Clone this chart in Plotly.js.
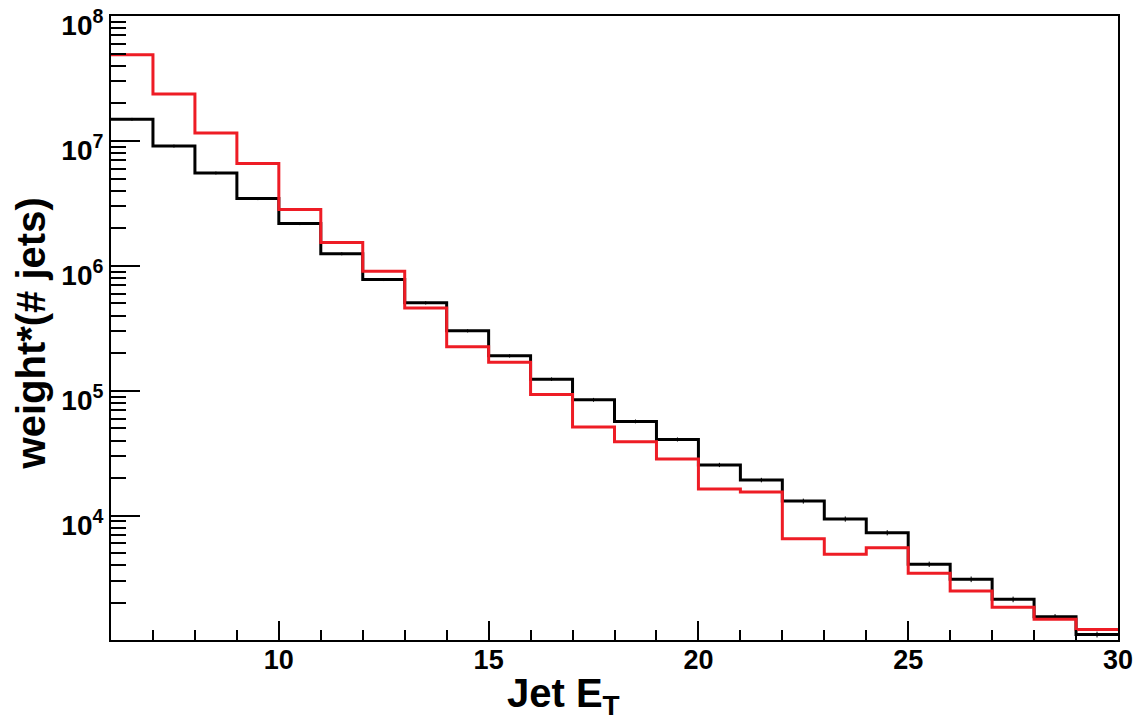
<!DOCTYPE html>
<html>
<head>
<meta charset="utf-8">
<script src="https://cdn.plot.ly/plotly-3.0.1.min.js"></script>
<style>
html,body{margin:0;padding:0;background:#fff;}
#chart{width:1136px;height:722px;}
</style>
</head>
<body>
<div id="chart"></div>
<script>
// Bin edges (Jet E_T)
const binEdges = [6,7,8,9,10,11,12,13,14,15,16,17,18,19,20,21,22,23,24,25,26,27,28,29,30];
// Black histogram (per bin)
const blackValues = [1.49e7, 9.1e6, 5.54e6, 3.46e6, 2.18e6, 1.25e6, 7.78e5, 5.06e5, 3.02e5, 1.905e5, 1.24e5, 8.47e4, 5.69e4, 4.08e4, 2.55e4, 1.93e4, 1.31e4, 9.41e3, 7.31e3, 4.09e3, 3.10e3, 2.14e3, 1.55e3, 1.12e3];
// Black statistical errors (per bin)
const blackErrors = [4e5, 2.5e5, 1.5e5, 1e5, 6e4, 3.5e4, 2.2e4, 1.5e4, 9e3, 6e3, 4e3, 3e3, 2e3, 1.5e3, 1e3, 8e2, 6e2, 4.5e2, 3.5e2, 2e2, 1.6e2, 1.1e2, 8e1, 6e1];
// Red histogram (per bin)
const redValues = [4.91e7, 2.38e7, 1.16e7, 6.59e6, 2.83e6, 1.54e6, 9.07e5, 4.61e5, 2.25e5, 1.69e5, 9.35e4, 5.13e4, 3.91e4, 2.84e4, 1.64e4, 1.55e4, 6.55e3, 4.91e3, 5.55e3, 3.46e3, 2.50e3, 1.85e3, 1.48e3, 1.23e3];
// Axis tick labels
const yTickVals = [1e4, 1e5, 1e6, 1e7, 1e8];
const yTickText = ["10<sup>4</sup>", "10<sup>5</sup>", "10<sup>6</sup>", "10<sup>7</sup>", "10<sup>8</sup>"];
const xTickVals = [10, 15, 20, 25, 30];
const xTickText = ["10", "15", "20", "25", "30"];
const xTitle = "Jet E<sub>T</sub>";
const yTitle = "weight*(# jets)";

function stepY(vals){ return vals.concat([vals[vals.length-1]]); }
const centers = binEdges.slice(0,-1).map((e,i)=> (e+binEdges[i+1])/2);

// minor tick positions on log axis
const yMinor = [];
for (let d = 3; d < 8; d++) for (let m = 2; m <= 9; m++) yMinor.push(m*Math.pow(10,d));
const xMinor = [];
for (let v = binEdges[0]; v <= binEdges[binEdges.length-1]; v++) xMinor.push(v);

const font = "'Liberation Sans', Arial, Helvetica, sans-serif";

const traces = [
  {x: binEdges, y: stepY(blackValues), mode: 'lines', line: {shape: 'hv', color: '#000000', width: 3}, hoverinfo: 'skip'},
  {x: centers, y: blackValues, mode: 'markers', marker: {size: 0.1, color: '#000'},
   error_y: {type: 'data', array: blackErrors, visible: true, width: 0, thickness: 1, color: '#000'}, hoverinfo: 'skip'},
  {x: binEdges, y: stepY(redValues), mode: 'lines', line: {shape: 'hv', color: '#ee1c25', width: 3}, hoverinfo: 'skip'}
];

const layout = {
  width: 1136, height: 722,
  margin: {l: 111, r: 18, t: 16, b: 82},
  paper_bgcolor: '#fff', plot_bgcolor: '#fff',
  showlegend: false,
  font: {family: font, color: '#000'},
  xaxis: {
    range: [6, 30], showgrid: false, zeroline: false,
    showline: true, linecolor: '#000', linewidth: 2, mirror: true,
    ticks: 'inside', ticklen: 19, tickwidth: 2, tickcolor: '#000',
    tickmode: 'array', tickvals: xTickVals, ticktext: xTickText,
    tickfont: {family: font, size: 27, color: '#000', weight: 'bold'},
    ticklabelstandoff: -5, ticklabeloverflow: 'allow',
    minor: {tickmode: 'array', tickvals: xMinor, ticks: 'inside', ticklen: 10, tickwidth: 2, tickcolor: '#000', showgrid: false}
  },
  yaxis: {
    type: 'log', range: [3.005, 8.0005], showgrid: false, zeroline: false,
    showline: true, linecolor: '#000', linewidth: 2, mirror: true,
    ticks: 'inside', ticklen: 29, tickwidth: 2, tickcolor: '#000',
    tickmode: 'array', tickvals: yTickVals, ticktext: yTickText,
    tickfont: {family: font, size: 28, color: '#000', weight: 'bold'},
    ticklabelshift: 9, ticklabelstandoff: 0, ticklabeloverflow: 'allow',
    minor: {tickmode: 'array', tickvals: yMinor, ticks: 'inside', ticklen: 15, tickwidth: 2, tickcolor: '#000', showgrid: false}
  },
  annotations: [
    {text: '<b>' + xTitle + '</b>', xref: 'paper', yref: 'paper', x: 0.391, y: -0.047,
     xanchor: 'left', yanchor: 'top', showarrow: false, font: {family: font, size: 40, color: '#000'}},
    {text: '<b>' + yTitle + '</b>', xref: 'paper', yref: 'paper', x: -0.079, y: 0.492,
     xanchor: 'center', yanchor: 'middle', textangle: -90, showarrow: false, font: {family: font, size: 40, color: '#000'}}
  ]
};

Plotly.newPlot('chart', traces, layout, {staticPlot: true, displayModeBar: false});
</script>
</body>
</html>
